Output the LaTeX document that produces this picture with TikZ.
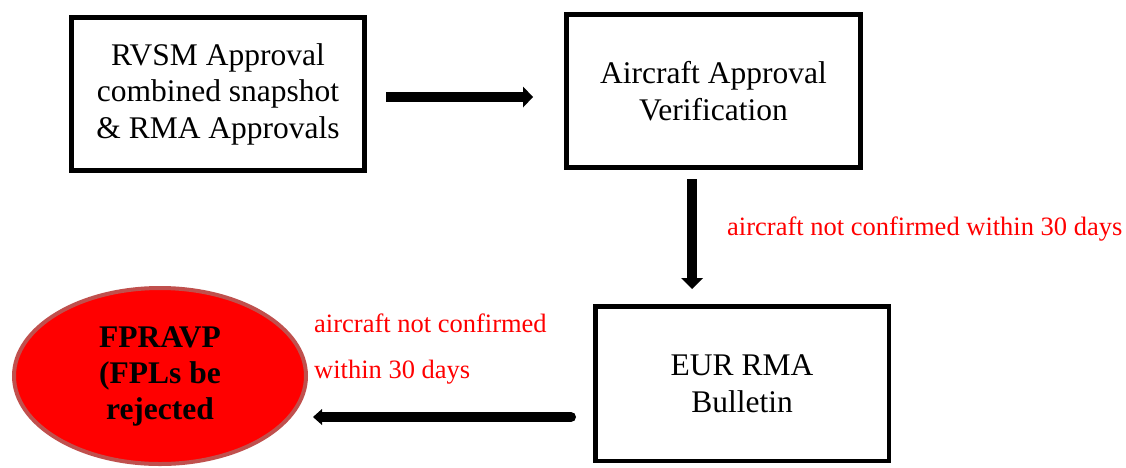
\documentclass[tikz,border=0pt]{standalone}
\usepackage{fontspec}
\newfontfamily\tnr{Liberation Serif}[Ligatures={NoCommon}]
\usetikzlibrary{arrows.meta,shapes.geometric}
\definecolor{ellborder}{RGB}{192,80,77}
\tikzset{
  stepbox/.style={draw=black, rectangle, minimum width=293pt, minimum height=153pt,
    line width=5pt, align=center, inner sep=0pt,
    font={\tnr\fontsize{31.5}{36.5}\selectfont}},
  redlabel/.style={text=red, inner sep=0pt, font={\tnr\fontsize{26.5}{32}\selectfont}},
  fatarrow/.style={line width=10pt, -{Triangle[length=10pt,width=21pt,line width=0pt]}},
  thinhead/.style={line width=10pt, line cap=round, -{Triangle[length=9pt,width=16pt,round,line width=0pt]}}
}
\begin{document}
\begin{tikzpicture}[x=1pt,y=-1pt]
\useasboundingbox (0,0) rectangle (1126,467);
\node[stepbox] (rvsm) at (218,94) {RVSM Approval\\combined snapshot\\\& RMA Approvals};
\node[stepbox, minimum width=294pt] (verif) at (713.5,91) {Aircraft Approval\\Verification};
\node[stepbox, line width=4.5pt, minimum width=293.5pt, minimum height=154.5pt] (bull) at (742,383.5) {EUR RMA\\Bulletin};
\node[ellipse, draw=ellborder, fill=red, line width=4pt, minimum width=292pt, minimum height=176pt,
      inner sep=0pt, align=center, font={\tnr\bfseries\fontsize{31.5}{36}\selectfont}] (fpr) at (160,376)
      {FPRAVP\\(FPLs be\\rejected};
\node[redlabel, anchor=base west] (lab1) at (727,235) {aircraft not confirmed within 30 days};
\node[redlabel, anchor=base west] (lab2a) at (314,332) {aircraft not confirmed};
\node[redlabel, anchor=base west] (lab2b) at (314,378) {within 30 days};
\draw[fatarrow] ([xshift=19pt,yshift=-3pt]rvsm.east) -- ([xshift=-31pt,yshift=-6pt]verif.west);
\draw[line width=10pt, -{Triangle[length=11pt,width=22pt,line width=0pt]}]
  ([xshift=-21.5pt,yshift=-9pt]verif.south) -- ([xshift=-50pt,yshift=15pt]bull.north);
\draw[thinhead] ([xshift=-22pt,yshift=-33.5pt]bull.west) -- ([xshift=5pt,yshift=-41pt]fpr.east);
\end{tikzpicture}
\end{document}
